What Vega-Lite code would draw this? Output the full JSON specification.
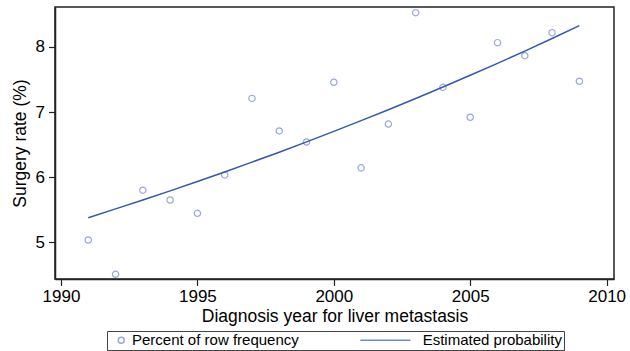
{
  "$schema": "https://vega.github.io/schema/vega-lite/v6.json",
  "width": 559,
  "height": 272,
  "autosize": "none",
  "padding": {"left": 55, "top": 7, "right": 16, "bottom": 72},
  "background": "white",
  "config": {
    "font": "Liberation Sans",
    "view": {"stroke": "#222222", "strokeWidth": 1.5},
    "axis": {
      "grid": false,
      "labelFont": "Liberation Sans",
      "labelFontSize": 17,
      "labelColor": "black",
      "titleFont": "Liberation Sans",
      "titleFontSize": 17.5,
      "titleFontWeight": "normal",
      "titleColor": "black",
      "tickColor": "#222222",
      "domainColor": "#222222",
      "domainWidth": 1.5,
      "tickWidth": 1.2,
      "tickSize": 6.5
    },
    "legend": {
      "title": null,
      "orient": "none",
      "legendX": 52,
      "legendY": 324,
      "direction": "horizontal",
      "columns": 2,
      "columnPadding": 57.7,
      "padding": 1.5,
      "strokeColor": "#444444",
      "labelFont": "Liberation Sans",
      "labelFontSize": 15,
      "labelColor": "black",
      "labelLimit": 400,
      "labelOffset": 8.5,
      "symbolSize": 4,
      "symbolStrokeWidth": 1.5,
      "symbolFillColor": "transparent"
    }
  },
  "datasets": {
    "obs": [
      {"year": 1991, "rate": 5.035},
      {"year": 1992, "rate": 4.508},
      {"year": 1993, "rate": 5.80},
      {"year": 1994, "rate": 5.65},
      {"year": 1995, "rate": 5.445},
      {"year": 1996, "rate": 6.035},
      {"year": 1997, "rate": 7.21},
      {"year": 1998, "rate": 6.71},
      {"year": 1999, "rate": 6.54},
      {"year": 2000, "rate": 7.458},
      {"year": 2001, "rate": 6.143},
      {"year": 2002, "rate": 6.816},
      {"year": 2003, "rate": 8.527},
      {"year": 2004, "rate": 7.38},
      {"year": 2005, "rate": 6.92},
      {"year": 2006, "rate": 8.066},
      {"year": 2007, "rate": 7.866},
      {"year": 2008, "rate": 8.22},
      {"year": 2009, "rate": 7.474}
    ],
    "fit": [
      {"year": 1991, "rate": 5.378},
      {"year": 1992, "rate": 5.513},
      {"year": 1993, "rate": 5.650},
      {"year": 1994, "rate": 5.790},
      {"year": 1995, "rate": 5.933},
      {"year": 1996, "rate": 6.080},
      {"year": 1997, "rate": 6.231},
      {"year": 1998, "rate": 6.384},
      {"year": 1999, "rate": 6.542},
      {"year": 2000, "rate": 6.703},
      {"year": 2001, "rate": 6.868},
      {"year": 2002, "rate": 7.036},
      {"year": 2003, "rate": 7.209},
      {"year": 2004, "rate": 7.385},
      {"year": 2005, "rate": 7.565},
      {"year": 2006, "rate": 7.749},
      {"year": 2007, "rate": 7.937},
      {"year": 2008, "rate": 8.130},
      {"year": 2009, "rate": 8.327}
    ]
  },
  "layer": [
    {
      "data": {"name": "obs"},
      "mark": {"type": "point", "shape": "circle", "filled": false, "size": 40, "strokeWidth": 1.2},
      "encoding": {
        "x": {
          "field": "year", "type": "quantitative",
          "scale": {"domain": [1989.78, 2010.27], "nice": false, "zero": false},
          "axis": {"values": [1990, 1995, 2000, 2005, 2010], "format": "d", "title": "Diagnosis year for liver metastasis", "labelPadding": 3, "titlePadding": 3}
        },
        "y": {
          "field": "rate", "type": "quantitative",
          "scale": {"domain": [4.436, 8.614], "nice": false, "zero": false},
          "axis": {"values": [5, 6, 7, 8], "format": "d", "title": "Surgery rate (%)", "labelPadding": 4, "titlePadding": 6}
        },
        "color": {
          "datum": "Percent of row frequency", "type": "nominal",
          "scale": {"domain": ["Percent of row frequency", "Estimated probability"], "range": ["#7284c8", "#3557b0"]}
        }
      }
    },
    {
      "data": {"name": "fit"},
      "mark": {"type": "line", "strokeWidth": 1.5},
      "encoding": {
        "x": {"field": "year", "type": "quantitative"},
        "y": {"field": "rate", "type": "quantitative"},
        "color": {"datum": "Estimated probability", "type": "nominal"}
      }
    },
    {
      "data": {"name": "obs"},
      "transform": [{"filter": "false"}],
      "mark": {"type": "point", "filled": false},
      "encoding": {
        "x": {"field": "year", "type": "quantitative"},
        "y": {"field": "rate", "type": "quantitative"},
        "shape": {
          "datum": "Percent of row frequency", "type": "nominal",
          "scale": {"domain": ["Percent of row frequency", "Estimated probability"], "range": ["M8.25,0A3,3,0,1,1,2.25,0A3,3,0,1,1,8.25,0Z", "M-46.35,0L3.65,0"]}
        }
      }
    }
  ]
}
